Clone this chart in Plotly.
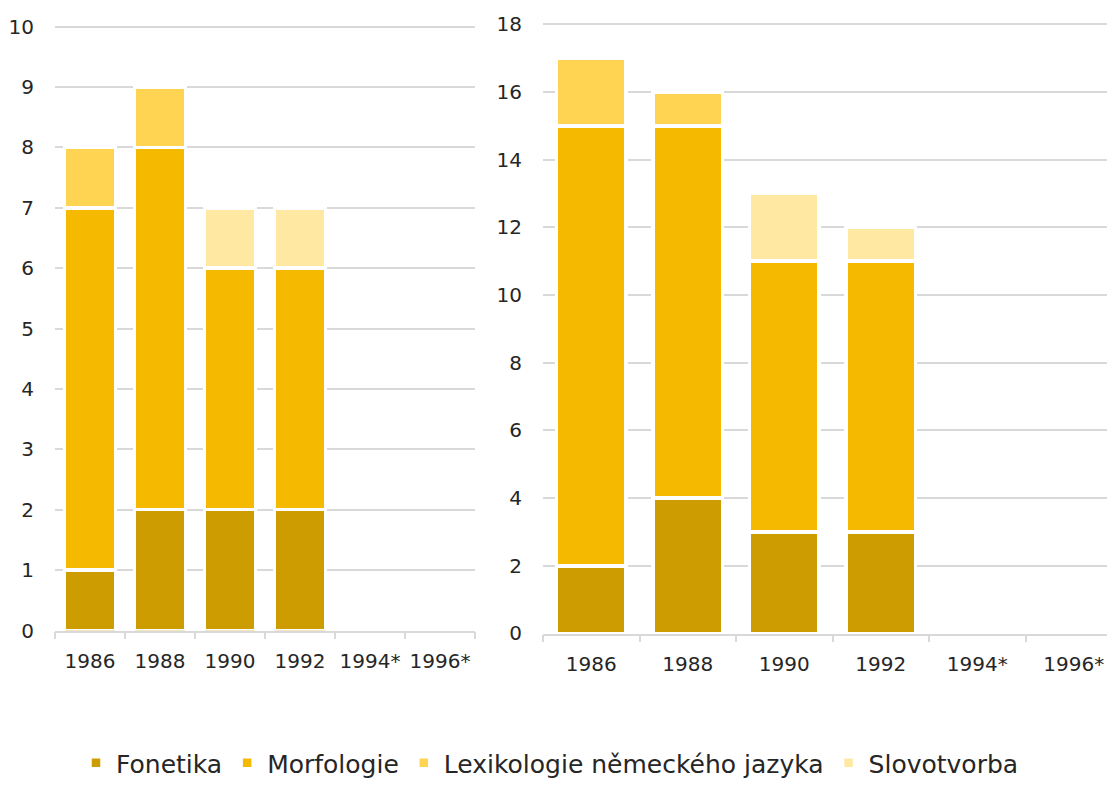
import plotly.graph_objects as go

categories = ["1986", "1988", "1990", "1992", "1994*", "1996*"]
series_names = ["Fonetika", "Morfologie", "Lexikologie německého jazyka", "Slovotvorba"]
colors = ["#CC9C00", "#F5BA00", "#FFD452", "#FFE8A1"]

left_fonetika = [1, 2, 2, 2, None, None]
left_morfologie = [6, 6, 4, 4, None, None]
left_lexikologie = [1, 1, None, None, None, None]
left_slovotvorba = [None, None, 1, 1, None, None]

right_fonetika = [2, 4, 3, 3, None, None]
right_morfologie = [13, 11, 8, 8, None, None]
right_lexikologie = [2, 1, None, None, None, None]
right_slovotvorba = [None, None, 2, 1, None, None]

left = [left_fonetika, left_morfologie, left_lexikologie, left_slovotvorba]
right = [right_fonetika, right_morfologie, right_lexikologie, right_slovotvorba]

# page body has an 8px margin; figure sized so the page is exactly the window size
W, H = 1099, 773
OFF = 8

def px_x(v):
    return (v - OFF) / W

def px_y(v):
    return (H - (v - OFF)) / H

fig = go.Figure()
for i, name in enumerate(series_names):
    fig.add_trace(go.Bar(x=categories, y=left[i], name=name, marker_color=colors[i],
                         marker_line_color="white", marker_line_width=3.5,
                         xaxis="x", yaxis="y", legendgroup=name, showlegend=True))
for i, name in enumerate(series_names):
    fig.add_trace(go.Bar(x=categories, y=right[i], name=name, marker_color=colors[i],
                         marker_line_color="white", marker_line_width=3.5,
                         xaxis="x2", yaxis="y2", legendgroup=name, showlegend=False))

font_family = "'DejaVu Sans', sans-serif"
tick_font = dict(family=font_family, size=20, color="#262626")
grid = "#D9D9D9"

right_start = 543
cat_w = 96.5
visible = (OFF + W - right_start) / cat_w

fig.update_layout(
    width=W, height=H,
    margin=dict(l=0, r=0, t=0, b=0, autoexpand=False),
    paper_bgcolor="white", plot_bgcolor="white",
    barmode="stack",
    bargap=0.275,
    font=dict(family=font_family, color="#262626"),
    xaxis=dict(domain=[px_x(55), px_x(475)], anchor="y", type="category",
               tickfont=tick_font, tickangle=0, showline=True, linecolor=grid, linewidth=1.5,
               ticks="outside", tickson="boundaries", ticklen=7, tickcolor=grid, tickwidth=1.5,
               ticklabelstandoff=12, showgrid=False, automargin=False),
    yaxis=dict(domain=[px_y(630.5), px_y(26.7 - 0.02 * 60.4)], anchor="x", range=[0, 10.02],
               dtick=1, tickfont=tick_font, showgrid=True, gridcolor=grid, gridwidth=1.5,
               zeroline=False, ticks="", ticklabelstandoff=20, automargin=False),
    xaxis2=dict(domain=[px_x(right_start), 1.0], anchor="y2", type="category",
                range=[-0.5, -0.5 + visible],
                tickfont=tick_font, tickangle=0, showline=True, linecolor=grid, linewidth=1.5,
                ticks="outside", tickson="boundaries", ticklen=7, tickcolor=grid, tickwidth=1.5,
                ticklabelstandoff=12, showgrid=False, automargin=False),
    yaxis2=dict(domain=[px_y(633.5), px_y(24.3 - 0.04 * 33.85)], anchor="x2", range=[0, 18.04],
                dtick=2, tickfont=tick_font, showgrid=True, gridcolor=grid, gridwidth=1.5,
                zeroline=False, ticks="", ticklabelstandoff=20, automargin=False),
    legend=dict(orientation="h", x=px_x(550), xanchor="center", y=px_y(763), yanchor="middle",
                font=dict(family=font_family, size=25, color="#262626"),
                traceorder="normal", itemwidth=30),
)

fig.write_html("out.html")
